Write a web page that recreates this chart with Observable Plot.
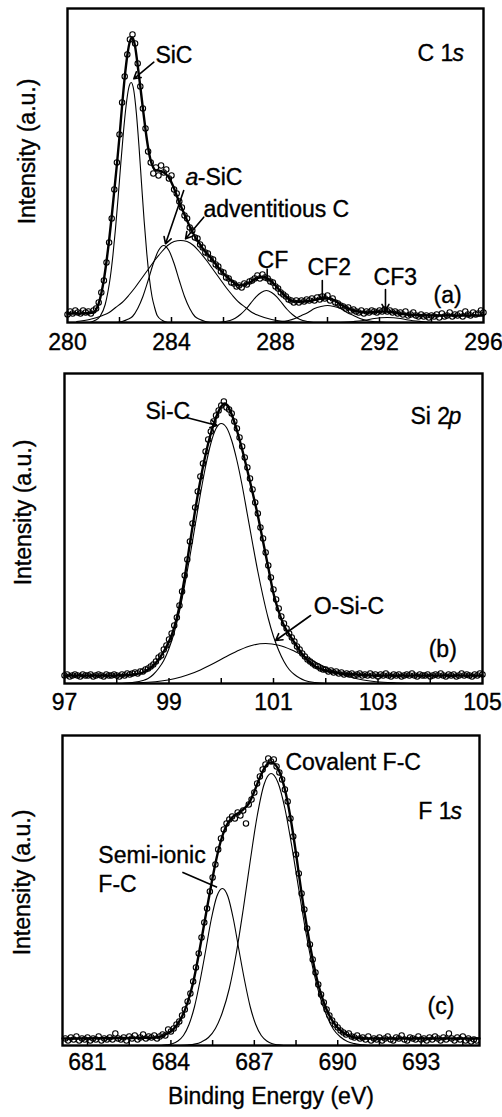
<!DOCTYPE html>
<html>
<head>
<meta charset="utf-8">
<script src="https://cdn.jsdelivr.net/npm/d3@7"></script>
<script src="https://cdn.jsdelivr.net/npm/@observablehq/plot@0.6"></script>
<style>
  html, body { margin: 0; padding: 0; background: #fff; }
  #chart { width: 502px; }
  #chart svg { display: block; }
  #chart svg text { stroke: black; stroke-width: 0.35px; }
</style>
</head>
<body>
<div id="chart"></div>
<script>
// ---------------- Panel (a): C 1s ----------------
const c1sTickLabels = [280, 284, 288, 292, 296];
const c1sMinorTicks = [282, 284, 286, 288, 290, 292, 294];
const c1sData = [[280.0,8],[280.1,11],[280.2,9],[280.3,12],[280.4,10],[280.5,9],[280.6,12],[280.7,10],[280.8,11],[280.9,9],[281.0,12],[281.1,14],[281.2,20],[281.3,30],[281.4,42],[281.5,60],[281.6,80],[281.7,104],[281.8,133],[281.9,160],[282.0,188],[282.1,220],[282.2,246],[282.3,268],[282.4,283],[282.5,288],[282.6,279],[282.7,259],[282.8,236],[282.9,214],[283.0,194],[283.1,171],[283.2,160],[283.3,149],[283.4,155],[283.5,147],[283.6,157],[283.7,150],[283.8,153],[283.9,144],[284.0,147],[284.1,133],[284.2,129],[284.3,121],[284.4,115],[284.5,107],[284.6,104],[284.7,95],[284.8,92],[284.9,85],[285.0,84],[285.1,78],[285.2,75],[285.3,70],[285.4,69],[285.5,64],[285.6,63],[285.7,58],[285.8,56],[285.9,51],[286.0,50],[286.1,45],[286.2,44],[286.3,40],[286.4,39],[286.5,36],[286.6,37],[286.7,35],[286.8,39],[286.9,38],[287.0,41],[287.1,42],[287.2,44],[287.3,47],[287.4,44],[287.5,48],[287.6,45],[287.7,44],[287.8,41],[287.9,40],[288.0,36],[288.1,34],[288.2,30],[288.3,28],[288.4,26],[288.5,23],[288.6,22],[288.7,20],[288.8,22],[288.9,20],[289.0,22],[289.1,21],[289.2,23],[289.3,22],[289.4,24],[289.5,22],[289.6,25],[289.7,23],[289.8,26],[289.9,24],[290.0,27],[290.1,22],[290.2,24],[290.3,20],[290.4,19],[290.5,17],[290.6,16],[290.7,14],[290.8,15],[290.9,12],[291.0,13],[291.1,11],[291.2,10],[291.3,12],[291.4,9],[291.5,11],[291.6,10],[291.7,12],[291.8,11],[291.9,10],[292.0,12],[292.1,11],[292.2,13],[292.3,11],[292.4,12],[292.5,10],[292.6,11],[292.7,9],[292.8,10],[292.9,8],[293.0,11],[293.1,7],[293.2,8],[293.3,10],[293.4,7],[293.5,6],[293.6,8],[293.7,6],[293.8,7],[293.9,5],[294.0,7],[294.1,6],[294.2,8],[294.3,5],[294.4,9],[294.5,6],[294.6,7],[294.7,10],[294.8,6],[294.9,8],[295.0,7],[295.1,9],[295.2,6],[295.3,11],[295.4,8],[295.5,7],[295.6,10],[295.7,8],[295.8,9],[295.9,12],[296.0,10]];
const c1sFit = [[280.0,9],[280.5,9],[281.0,10],[281.1,13],[281.2,19],[281.3,29],[281.4,43],[281.5,61],[281.6,82],[281.7,106],[281.8,132],[281.9,158],[282.0,186],[282.1,217],[282.2,245],[282.3,267],[282.4,281],[282.5,285],[282.6,276],[282.7,257],[282.8,236],[282.9,214],[283.0,193],[283.1,175],[283.2,162],[283.3,155],[283.4,152],[283.5,152],[283.6,151],[283.7,150],[283.8,148],[283.9,145],[284.0,140],[284.1,134],[284.2,127],[284.3,120],[284.4,114],[284.5,108],[284.6,102],[284.7,96],[284.8,91],[284.9,86],[285.0,82],[285.2,74],[285.4,68],[285.6,62],[285.8,55],[286.0,49],[286.2,44],[286.4,40],[286.6,37],[286.8,38],[287.0,40],[287.2,43],[287.4,45],[287.6,45],[287.8,42],[288.0,37],[288.2,31],[288.4,26],[288.6,22],[288.8,21],[289.0,21],[289.4,22],[289.8,24],[290.0,24],[290.2,23],[290.5,18],[290.8,14],[291.0,12],[291.5,10],[292.0,11],[292.3,11],[292.6,10],[293.0,8],[294.0,7],[295.0,7],[296.0,7]];
const c1sSiC = [[280.85,0],[281.05,2],[281.25,6],[281.45,18],[281.55,30],[281.65,46],[281.75,68],[281.85,95],[281.95,126],[282.05,159],[282.15,190],[282.25,216],[282.35,234],[282.45,240],[282.55,232],[282.65,209],[282.75,176],[282.85,138],[282.95,101],[283.05,69],[283.15,44],[283.25,26],[283.35,15],[283.45,7],[283.65,2],[283.85,0]];
const c1sASiC = [[281.9,0],[282.1,1],[282.3,3],[282.5,6],[282.7,14],[282.9,26],[283.1,42],[283.3,59],[283.5,72],[283.7,77],[283.9,72],[284.1,59],[284.3,42],[284.5,26],[284.7,14],[284.9,6],[285.1,3],[285.3,1],[285.5,0]];
const c1sAdv = [[280.35,1],[280.85,3],[281.35,7],[281.6,10],[281.85,15],[282.1,20],[282.35,27],[282.6,35],[282.85,44],[283.1,53],[283.35,62],[283.6,70],[283.85,77],[284.1,81],[284.35,82],[284.6,81],[284.85,77],[285.1,70],[285.35,62],[285.6,53],[285.85,44],[286.1,35],[286.35,27],[286.6,20],[286.85,15],[287.1,10],[287.35,7],[287.85,3],[288.35,1],[288.85,0]];
const c1sCF = [[285.85,0],[286.05,1],[286.25,2],[286.45,4.3],[286.65,8],[286.85,13],[287.05,19.4],[287.25,25.6],[287.45,30],[287.65,32],[287.85,30],[288.05,25.6],[288.25,19.4],[288.45,13],[288.65,8],[288.85,4.3],[289.05,2],[289.25,1],[289.45,0]];
const c1sCF2 = [[287.75,0],[288.0,0.5],[288.25,1],[288.5,2],[288.75,4],[289.0,7],[289.25,10],[289.5,14],[289.75,16],[290.0,17],[290.25,16],[290.5,14],[290.75,10],[291.0,7],[291.25,4],[291.5,2],[291.75,1],[292.0,0.5],[292.25,0]];
const c1sCF3 = [[290.5,0],[291.0,1],[291.5,2.5],[291.8,4],[292.3,5],[292.8,4],[293.1,2.5],[293.6,1],[294.1,0]];
const c1sLabels = [
  {t: "SiC", E: 283.38, I: 266.5},
  {t: "-SiC", E: 285.01, I: 144.5},
  {t: "adventitious C", E: 285.23, I: 112.5},
  {t: "CF", E: 287.31, I: 61.5},
  {t: "CF2", E: 289.23, I: 55},
  {t: "CF3", E: 291.77, I: 45},
  {t: "C 1", E: 293.46, I: 268.5},
  {t: "(a)", E: 294.08, I: 27}
];
const c1sItalic = [{t: "a", E: 284.54, I: 144.5}, {t: "s", E: 294.81, I: 268.5}];
const c1sArrows = [
  {x1: 283.32, y1: 260.3, x2: 282.55, y2: 243.7},
  {x1: 284.47, y1: 132, x2: 283.77, y2: 78.7},
  {x1: 285.24, y1: 105.3, x2: 284.54, y2: 83.7},
  {x1: 289.8, y1: 42, x2: 289.8, y2: 22},
  {x1: 292.23, y1: 33, x2: 292.23, y2: 12}
];
const c1sLinks = [{x1: 287.68, y1: 54, x2: 287.68, y2: 42}];

// ---------------- Panel (b): Si 2p ----------------
const si2pTickLabels = [97, 99, 101, 103, 105];
const si2pMinorTicks = [98, 99, 100, 101, 102, 103, 104];
const si2pData = [[97.00,8],[97.05,9],[97.10,7],[97.15,8],[97.20,9],[97.25,8],[97.30,7],[97.35,9],[97.40,8],[97.45,8],[97.50,9],[97.55,7],[97.60,8],[97.65,9],[97.70,8],[97.75,7],[97.80,9],[97.85,8],[97.90,8],[97.95,9],[98.00,8],[98.05,7],[98.10,9],[98.15,8],[98.20,10],[98.25,9],[98.30,10],[98.35,11],[98.40,10],[98.45,12],[98.50,12],[98.55,14],[98.60,15],[98.65,17],[98.70,19],[98.75,22],[98.80,26],[98.85,28],[98.90,34],[98.95,38],[99.00,44],[99.05,50],[99.10,58],[99.15,66],[99.20,78],[99.25,92],[99.30,108],[99.35,124],[99.40,142],[99.45,160],[99.50,176],[99.55,192],[99.60,207],[99.65,220],[99.70,232],[99.75,244],[99.80,252],[99.85,262],[99.90,268],[99.95,273],[100.00,278],[100.05,282],[100.10,276],[100.15,274],[100.20,270],[100.25,262],[100.30,255],[100.35,246],[100.40,237],[100.45,226],[100.50,216],[100.55,205],[100.60,194],[100.65,181],[100.70,170],[100.75,156],[100.80,145],[100.85,131],[100.90,118],[100.95,106],[101.00,94],[101.05,84],[101.10,75],[101.15,67],[101.20,60],[101.25,55],[101.30,50],[101.35,46],[101.40,42],[101.45,37],[101.50,34],[101.55,30],[101.60,27],[101.65,24],[101.70,22],[101.75,20],[101.80,18],[101.85,17],[101.90,15],[101.95,14],[102.00,14],[102.05,12],[102.10,13],[102.15,11],[102.20,12],[102.25,10],[102.30,11],[102.35,9],[102.40,10],[102.45,9],[102.50,10],[102.55,8],[102.60,9],[102.65,10],[102.70,8],[102.75,9],[102.80,8],[102.85,10],[102.90,8],[102.95,9],[103.00,7],[103.05,9],[103.10,8],[103.15,10],[103.20,8],[103.25,7],[103.30,9],[103.35,8],[103.40,9],[103.45,7],[103.50,8],[103.55,9],[103.60,8],[103.65,10],[103.70,8],[103.75,7],[103.80,9],[103.85,8],[103.90,8],[103.95,9],[104.00,7],[104.05,8],[104.10,9],[104.15,8],[104.20,10],[104.25,8],[104.30,7],[104.35,9],[104.40,8],[104.45,9],[104.50,7],[104.55,8],[104.60,10],[104.65,8],[104.70,9],[104.75,8],[104.80,7],[104.85,9],[104.90,8],[104.95,10],[105.00,9]];
const si2pFit = [[97.0,8],[98.0,8],[98.3,9],[98.5,11],[98.6,14],[98.7,18],[98.8,24],[98.9,32],[99.0,42],[99.1,56],[99.2,77],[99.3,106],[99.4,140],[99.5,173],[99.6,203],[99.7,229],[99.8,250],[99.9,266],[100.0,277],[100.06,280],[100.1,279],[100.2,269],[100.3,253],[100.4,234],[100.5,213],[100.6,191],[100.7,168],[100.8,142],[100.9,116],[101.0,90],[101.1,72],[101.2,58],[101.3,49],[101.4,41],[101.5,33],[101.6,26],[101.7,21],[101.8,17],[102.0,13],[102.3,10],[102.6,9],[103.0,8],[105.0,8]];
const si2pSiC = [[98.1,0],[98.3,1],[98.5,3],[98.6,5],[98.7,9],[98.8,15],[98.9,23],[99.0,35],[99.1,51],[99.2,72],[99.3,98],[99.4,127],[99.5,158],[99.6,189],[99.7,217],[99.8,240],[99.9,255],[100.0,260],[100.1,256],[100.2,243],[100.3,223],[100.4,198],[100.5,169],[100.6,140],[100.7,112],[100.8,87],[100.9,65],[101.0,47],[101.1,33],[101.2,22],[101.3,14],[101.4,9],[101.5,5.5],[101.6,3],[101.8,1],[102.0,0]];
const si2pOSiC = [[98.1,0],[98.35,0.5],[98.6,1.2],[98.85,2.5],[99.1,4.8],[99.35,8.4],[99.6,13.6],[99.85,20],[100.1,27],[100.35,33.6],[100.6,38.3],[100.85,40],[101.1,38.3],[101.35,33.6],[101.6,27],[101.85,20],[102.1,13.6],[102.35,8.4],[102.6,4.8],[102.85,2.5],[103.1,1.2],[103.35,0.5],[103.6,0]];
const si2pLabels = [
  {t: "Si-C", E: 98.55, I: 271.5},
  {t: "O-Si-C", E: 101.77, I: 76.5},
  {t: "Si 2", E: 103.62, I: 266.5},
  {t: "(b)", E: 103.97, I: 34}
];
const si2pItalic = [{t: "p", E: 104.35, I: 266.5}];
const si2pArrows = [
  {x1: 99.316, y1: 266.3, x2: 99.92, y2: 258},
  {x1: 101.71, y1: 68, x2: 101.04, y2: 43}
];

// ---------------- Panel (c): F 1s ----------------
const f1sTickLabels = [681, 684, 687, 690, 693];
const f1sMinorTicks = [681, 682.5, 684, 685.5, 687, 688.5, 690, 691.5, 693, 694.5];
const f1sData = [[680.2,7],[680.3,5],[680.4,8],[680.5,6],[680.6,9],[680.7,5],[680.8,7],[680.9,6],[681.0,8],[681.1,5],[681.2,7],[681.3,6],[681.4,9],[681.5,5],[681.6,7],[681.7,6],[681.8,8],[681.9,6],[682.0,12],[682.1,7],[682.2,6],[682.3,8],[682.4,5],[682.5,9],[682.6,7],[682.7,10],[682.8,6],[682.9,8],[683.0,11],[683.1,7],[683.2,9],[683.3,8],[683.4,10],[683.5,7],[683.6,9],[683.7,11],[683.8,10],[683.9,16],[684.0,14],[684.1,17],[684.2,21],[684.3,24],[684.4,30],[684.5,36],[684.6,44],[684.7,52],[684.8,64],[684.9,78],[685.0,92],[685.1,108],[685.2,123],[685.3,137],[685.4,154],[685.5,168],[685.6,181],[685.7,196],[685.8,207],[685.9,216],[686.0,222],[686.1,226],[686.2,229],[686.3,227],[686.4,233],[686.5,230],[686.6,235],[686.7,222],[686.8,241],[686.9,246],[687.0,253],[687.1,262],[687.2,269],[687.3,276],[687.4,281],[687.5,287],[687.6,284],[687.7,286],[687.8,279],[687.9,273],[688.0,266],[688.1,256],[688.2,244],[688.3,227],[688.4,209],[688.5,191],[688.6,172],[688.7,152],[688.8,136],[688.9,117],[689.0,101],[689.1,86],[689.2,73],[689.3,61],[689.4,51],[689.5,43],[689.6,36],[689.7,30],[689.8,25],[689.9,21],[690.0,18],[690.1,15],[690.2,13],[690.3,11],[690.4,12],[690.5,9],[690.6,8],[690.7,10],[690.8,7],[690.9,8],[691.0,6],[691.1,9],[691.2,5],[691.3,7],[691.4,6],[691.5,8],[691.6,5],[691.7,7],[691.8,9],[691.9,6],[692.0,5],[692.1,8],[692.2,7],[692.3,10],[692.4,6],[692.5,5],[692.6,8],[692.7,7],[692.8,6],[692.9,9],[693.0,6],[693.1,7],[693.2,5],[693.3,8],[693.4,6],[693.5,9],[693.6,7],[693.7,5],[693.8,8],[693.9,6],[694.0,12],[694.1,7],[694.2,5],[694.3,8],[694.4,6],[694.5,9],[694.6,5],[694.7,7],[694.8,4],[694.9,6],[695.0,5]];
const f1sFit = [[680.1,7],[683.5,8],[683.8,11],[684.0,14],[684.2,20],[684.4,29],[684.6,43],[684.8,63],[685.0,91],[685.2,122],[685.4,153],[685.6,182],[685.8,205],[686.0,220],[686.2,228],[686.4,232],[686.6,236],[686.8,242],[687.0,254],[687.2,268],[687.4,279],[687.55,283],[687.7,282],[687.9,274],[688.1,256],[688.3,228],[688.5,192],[688.7,152],[688.9,117],[689.1,86],[689.3,61],[689.5,43],[689.7,30],[689.9,21],[690.1,15],[690.3,11],[690.6,8],[691.0,7],[695.1,7]];
const f1sSemi = [[683.65,0],[683.85,0.6],[684.05,1.7],[684.25,4.5],[684.45,10],[684.65,21],[684.85,39],[685.05,65],[685.25,95],[685.45,126],[685.65,149],[685.85,157],[686.05,149],[686.25,126],[686.45,95],[686.65,65],[686.85,39],[687.05,21],[687.25,10],[687.45,4.5],[687.65,1.7],[687.85,0.6],[688.05,0]];
const f1sCov = [[684.35,0],[684.6,0.5],[684.85,1.4],[685.1,3.6],[685.35,8],[685.6,17],[685.85,33],[686.1,57],[686.35,92],[686.6,136],[686.85,184],[687.1,229],[687.35,261],[687.6,272],[687.85,263],[688.1,237],[688.35,199],[688.6,156],[688.85,114],[689.1,78],[689.35,50],[689.6,30],[689.85,16],[690.1,8.5],[690.35,4],[690.6,1.9],[690.85,0.8],[691.1,0]];
const f1sLabels = [
  {t: "Covalent F-C", E: 688.12, I: 282.5},
  {t: "Semi-ionic", E: 681.39, I: 190},
  {t: "F-C", E: 681.39, I: 160.5},
  {t: "F 1", E: 692.9, I: 234},
  {t: "(c)", E: 693.23, I: 39}
];
const f1sItalic = [{t: "s", E: 694.06, I: 234}];
const f1sLinks = [{x1: 684.41, y1: 173.3, x2: 685.66, y2: 158.3}];

const yTitle = "Intensity (a.u.)";
const xTitle = "Binding Energy (eV)";

// ---------------- drawing ----------------
const FONT = "'Liberation Sans', Arial, Helvetica, sans-serif";
const FS = 23;
const toPts = (a) => a.map(([E, I]) => ({E, I}));

function panel(cfg) {
  const [mt, mr, mb, ml] = cfg.margins;
  const frameH = cfg.height - mt - mb;
  const marks = [
    Plot.frame({stroke: "black", strokeWidth: 2.4}),
    Plot.tickX(cfg.minor, {x: (d) => d, insetTop: frameH - 5, stroke: "black", strokeWidth: 1.5}),
    Plot.axisX(cfg.ticks, {anchor: "bottom", tickSize: 0, tickPadding: cfg.tickPad, label: null,
      fontSize: FS, tickFormat: (d) => String(d)}),
    ...cfg.comps.map((c) => Plot.line(toPts(c), {x: "E", y: "I", stroke: "black", strokeWidth: 1.1, curve: "monotone-x"})),
    Plot.line(toPts(cfg.fit), {x: "E", y: "I", stroke: "black", strokeWidth: 2.4, curve: "monotone-x"}),
    Plot.dot(toPts(cfg.data), {x: "E", y: "I", r: 2.7, stroke: "black", strokeWidth: 1.1, fill: "none"}),
    Plot.text(cfg.labels, {x: "E", y: "I", text: "t", textAnchor: "start", lineAnchor: "middle", fontSize: FS, fill: "black"}),
    Plot.text(cfg.italic, {x: "E", y: "I", text: "t", textAnchor: "start", lineAnchor: "middle", fontSize: FS, fontStyle: "italic", fill: "black"}),
    Plot.text([yTitle], {frameAnchor: "left", rotate: -90, textAnchor: "middle", lineAnchor: "middle",
      dx: cfg.yDx, dy: cfg.yDy, fontSize: FS, fill: "black"})
  ];
  if (cfg.arrows) marks.push(Plot.arrow(cfg.arrows, {x1: "x1", y1: "y1", x2: "x2", y2: "y2", stroke: "black", strokeWidth: 1.6, headLength: 7}));
  if (cfg.links) marks.push(Plot.link(cfg.links, {x1: "x1", y1: "y1", x2: "x2", y2: "y2", stroke: "black", strokeWidth: 1.6}));
  if (cfg.xTitle) marks.push(Plot.text([cfg.xTitle], {frameAnchor: "bottom", textAnchor: "middle", lineAnchor: "middle", dy: cfg.xTitleDy, fontSize: FS, fill: "black"}));
  return Plot.plot({
    width: 502,
    height: cfg.height,
    marginTop: mt, marginRight: mr, marginBottom: mb, marginLeft: ml,
    x: {domain: cfg.xDomain},
    y: {domain: [0, frameH], axis: null},
    style: {fontFamily: FONT, fontSize: FS + "px", background: "white", color: "black", overflow: "visible"},
    marks
  });
}

const chart = document.getElementById("chart");
chart.append(panel({
  height: 360, margins: [8, 19, 38, 67], xDomain: [280, 296], tickPad: 11,
  ticks: c1sTickLabels, minor: c1sMinorTicks,
  data: c1sData, fit: c1sFit, comps: [c1sSiC, c1sASiC, c1sAdv, c1sCF, c1sCF2, c1sCF3],
  labels: c1sLabels, italic: c1sItalic, arrows: c1sArrows, links: c1sLinks,
  yDx: -40, yDy: -14
}));
chart.append(panel({
  height: 360, margins: [13, 20, 37, 64], xDomain: [97, 105], tickPad: 10,
  ticks: si2pTickLabels, minor: si2pMinorTicks,
  data: si2pData, fit: si2pFit, comps: [si2pSiC, si2pOSiC],
  labels: si2pLabels, italic: si2pItalic, arrows: si2pArrows,
  yDx: -41, yDy: -16
}));
chart.append(panel({
  height: 397, margins: [15, 23, 72, 62], xDomain: [680.1, 695.1], tickPad: 8,
  ticks: f1sTickLabels, minor: f1sMinorTicks,
  data: f1sData, fit: f1sFit, comps: [f1sSemi, f1sCov],
  labels: f1sLabels, italic: f1sItalic, links: f1sLinks,
  yDx: -40, yDy: -8, xTitle: xTitle, xTitleDy: 51
}));
</script>
</body>
</html>
